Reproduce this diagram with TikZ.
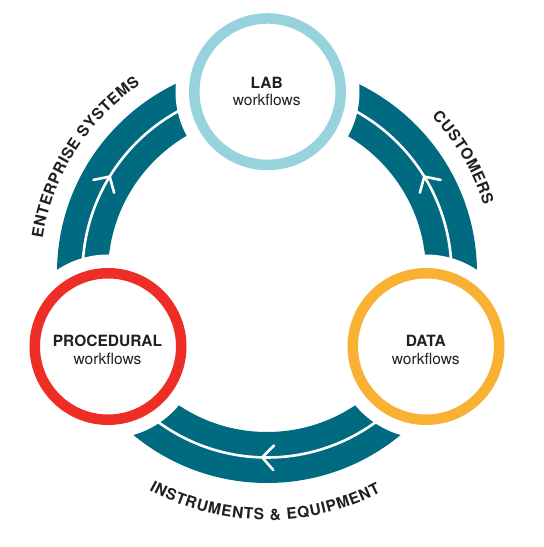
\documentclass[tikz,border=0pt]{standalone}
\usepackage{fontspec}
\setmainfont{TeX Gyre Heros}
\definecolor{bandteal}{HTML}{006A80}
\definecolor{labblue}{HTML}{98D2DD}
\definecolor{procred}{HTML}{EE2E26}
\definecolor{dataorange}{HTML}{F8B133}
\definecolor{inkgray}{HTML}{231F20}
\newcommand{\lblsize}{15.5}
\newcommand{\lbl}{\bfseries\fontsize{\lblsize}{18}\selectfont}
\newlength\totlenD
\newlength\cumD
% #1 name prefix, #2 radius, #3 centre angle, #4 direction (+1 ccw, -1 cw), #5 letter gap (pt), #6 letter/width(em) list
\newcommand{\arcword}[6]{%
  \global\totlenD=0pt
  \foreach \ch/\w in {#6}{%
    \pgfmathsetmacro\wpt{\w*\lblsize}%
    \global\advance\totlenD by \wpt pt
    \global\advance\totlenD by #5pt
  }%
  \global\advance\totlenD by -#5pt
  \pgfmathsetmacro\Lhalf{\totlenD/2}%
  \global\let\Lhalf\Lhalf
  \global\cumD=0pt
  \foreach \ch/\w [count=\i] in {#6}{%
    \pgfmathsetmacro\wpt{\w*\lblsize}%
    \pgfmathsetmacro\dd{\cumD+\wpt/2}%
    \pgfmathsetmacro\ang{#3-(#4)*\Lhalf/#2*57.29578+(#4)*\dd/#2*57.29578}%
    \pgfmathsetmacro\rot{\ang+(#4)*90}%
    \node[lettertext, rotate=\rot] (#1-\i) at ([shift={(\ang:#2)}]C) {\ch};
    \global\advance\cumD by \wpt pt
    \global\advance\cumD by #5pt
  }%
}
\begin{document}
\begin{tikzpicture}[x=1pt,y=1pt,
  ringnode/.style={circle, line width=10.5pt, minimum size=146.5pt, inner sep=0pt, fill=white},
  chev/.style={white, line width=2.6pt, line cap=round},
  titletext/.style={font=\fontsize{15.5}{18}\selectfont\bfseries, text=inkgray, inner sep=0pt, anchor=base},
  subtext/.style={font=\fontsize{15.5}{18}\selectfont, text=inkgray, inner sep=0pt, anchor=base},
  lettertext/.style={font=\lbl, text=inkgray, inner sep=0pt, anchor=base}]
\useasboundingbox (0,0) rectangle (544,547);
\coordinate (C) at (267,274);
\coordinate (labc) at (267.5,455.3);
\coordinate (procc) at (108,200.5);
\coordinate (datac) at (426,200.5);
% bands
\fill[bandteal, even odd rule] (C) circle[radius=210] (C) circle[radius=159];
\draw[white, line width=2.6pt] (C) circle[radius=184.5];
% chevrons
\begin{scope}[shift={(C)}, rotate=148.5]
  \draw[chev] (172.3,11.4) -- (184.5,0) -- (196.7,11.4);
\end{scope}
\begin{scope}[shift={(C)}, rotate=31.5]
  \draw[chev] (172.3,-11.4) -- (184.5,0) -- (196.7,-11.4);
\end{scope}
\begin{scope}[shift={(C)}, rotate=268.5]
  \draw[chev] (172.3,11.4) -- (184.5,0) -- (196.7,11.4);
\end{scope}
% gaps around rings
\fill[white] (labc) circle[radius=92];
\fill[white] (procc) circle[radius=92];
\fill[white] (datac) circle[radius=92];
% rings
\node[ringnode, draw=labblue] (lab) at (labc) {};
\node[ringnode, draw=procred] (proc) at (procc) {};
\node[ringnode, draw=dataorange] (data) at (datac) {};
% ring texts
\node[titletext] (labt) at (266.7,458.7) {LAB};
\node[subtext] (labs) at (266.7,441) {workflows};
\node[titletext] (proct) at (107.5,200.3) {PROCEDURAL};
\node[subtext] (procs) at (107.5,182.7) {workflows};
\node[titletext] (datat) at (425.8,200.3) {DATA};
\node[subtext] (datas) at (425.8,182.7) {workflows};
% arc labels
\arcword{cust}{227}{30.4}{-1}{0.6}{C/.722,U/.722,S/.667,T/.611,O/.778,M/.833,E/.667,R/.722,S/.667}
\arcword{ent}{227}{147.6}{-1}{0.6}{E/.667,N/.722,T/.611,E/.667,R/.722,P/.667,R/.722,I/.278,S/.667,E/.667,{}/.278,S/.667,Y/.667,S/.667,T/.611,E/.667,M/.833,S/.667}
\arcword{ins}{247}{269.5}{1}{0.8}{I/.278,N/.722,S/.667,T/.611,R/.722,U/.722,M/.833,E/.667,N/.722,T/.611,S/.667,{}/.278,\&/.722,{}/.278,E/.667,Q/.778,U/.722,I/.278,P/.667,M/.833,E/.667,N/.722,T/.611}
\end{tikzpicture}
\end{document}
